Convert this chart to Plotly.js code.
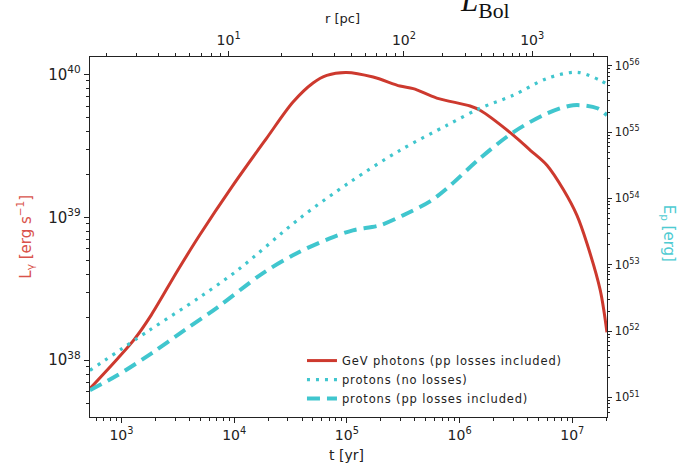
<!DOCTYPE html>
<html><head><meta charset="utf-8">
<script src="https://cdn.plot.ly/plotly-3.0.1.min.js"></script>
<style>html,body{margin:0;padding:0;background:#fff}#chart{width:682px;height:465px}.legendtext{letter-spacing:0.85px}</style>
</head><body><div id="chart"></div>
<script>
// GeV photon luminosity (left axis), t in yr, L in erg/s
const tPhotons = [525, 927, 1300, 1837, 3162, 4932, 9750, 1.93e4, 3.33e4, 5.01e4, 6.64e4, 9.93e4, 1.71e5, 2.96e5, 3.88e5, 6.27e5, 1.24e6, 1.52e6, 3.01e6, 4.24e6, 5.96e6, 8.38e6, 1.10e7, 1.35e7, 1.77e7, 2.03e7];
const LPhotons = [6.34e37, 1.03e38, 1.40e38, 2.07e38, 4.26e38, 7.48e38, 1.67e39, 3.55e39, 6.40e39, 8.70e39, 9.84e39, 1.03e40, 9.57e39, 8.28e39, 7.94e39, 6.82e39, 6.00e39, 5.60e39, 3.74e39, 2.94e39, 2.31e39, 1.55e39, 1.03e39, 6.55e38, 3.09e38, 1.57e38];
// Proton energy, no losses (right axis), erg
const tNoLoss = [525, 1774, 4932, 1.07e4, 3.82e4, 1.06e5, 2.96e5, 7.74e5, 1.52e6, 2.99e6, 6.00e6, 1.11e7, 1.77e7, 2.03e7];
const EpNoLoss = [2.55e51, 1.03e52, 3.22e52, 8.24e52, 5.01e53, 1.75e54, 5.31e54, 1.27e55, 2.29e55, 3.59e55, 6.47e55, 7.98e55, 6.04e55, 5.26e55];
// Proton energy, pp losses included (right axis), erg
const tLoss = [525, 920, 1849, 3631, 7129, 1.79e4, 3.60e4, 7.06e4, 1.13e5, 1.96e5, 3.15e5, 5.47e5, 7.74e5, 1.52e6, 2.99e6, 6.00e6, 1.02e7, 1.67e7, 2.03e7];
const EpLoss = [1.28e51, 2.15e51, 4.61e51, 1.03e52, 2.28e52, 7.41e52, 1.49e53, 2.50e53, 3.30e53, 3.93e53, 5.56e53, 9.04e53, 1.42e54, 4.03e54, 9.93e54, 1.92e55, 2.54e55, 2.29e55, 1.79e55];

const seriesNames = ['GeV photons (pp losses included)', 'protons (no losses)', 'protons (pp losses included)'];
// Bottom axis ticks (t)
const tTickVals = [1e3, 1e4, 1e5, 1e6, 1e7];
const tTickText = ['10<sup>3</sup>', '10<sup>4</sup>', '10<sup>5</sup>', '10<sup>6</sup>', '10<sup>7</sup>'];
// Top axis ticks (r in pc) and the t at which they sit
const rTickText = ['10<sup>1</sup>', '10<sup>2</sup>', '10<sup>3</sup>'];
const rTickT = [8930, 3.21e5, 4.41e6];
// Left axis ticks
const LTickVals = [1e38, 1e39, 1e40];
const LTickText = ['10<sup>38</sup>', '10<sup>39</sup>', '10<sup>40</sup>'];
// Right axis ticks
const ETickVals = [1e51, 1e52, 1e53, 1e54, 1e55, 1e56];
const ETickText = ['10<sup>51</sup>', '10<sup>52</sup>', '10<sup>53</sup>', '10<sup>54</sup>', '10<sup>55</sup>', '10<sup>56</sup>'];

const RED = '#cd392e', CYAN = '#40c6ce', INK = '#222';

function minorLog(lo, hi) { const v = []; for (let d = lo; d <= hi; d++) for (let k = 2; k <= 9; k++) v.push(k * Math.pow(10, d)); return v; }
// minor ticks for the r axis: interpolate log t vs log r between labelled ticks
function minorR() {
  const lr = [1, 2, 3], lt = rTickT.map(Math.log10), out = [];
  for (let d = 0; d <= 3; d++) for (let k = 2; k <= 9; k++) {
    const x = d + Math.log10(k); let i = x < 2 ? 0 : 1;
    const y = lt[i] + (x - lr[i]) * (lt[i + 1] - lt[i]) / (lr[i + 1] - lr[i]);
    out.push(Math.pow(10, y));
  }
  return out;
}

const xr = [2.721, 7.308];
const traces = [
  {x: tPhotons, y: LPhotons, name: seriesNames[0], type: 'scatter', mode: 'lines', line: {color: RED, width: 3, shape: 'spline', smoothing: 0.9}, xaxis: 'x', yaxis: 'y'},
  {x: tNoLoss, y: EpNoLoss, name: seriesNames[1], type: 'scatter', mode: 'lines', line: {color: CYAN, width: 3.2, dash: '3px,6px', shape: 'spline', smoothing: 0.9}, xaxis: 'x', yaxis: 'y2'},
  {x: tLoss, y: EpLoss, name: seriesNames[2], type: 'scatter', mode: 'lines', line: {color: CYAN, width: 4, dash: '13px,7px', shape: 'spline', smoothing: 0.9}, xaxis: 'x', yaxis: 'y2'},
  // empty trace that only registers the top (r) axis so that it is drawn
  {x: [], y: [], type: 'scatter', mode: 'lines', xaxis: 'x2', yaxis: 'y', showlegend: false, hoverinfo: 'skip'}
];

const axBase = {showline: true, linecolor: INK, linewidth: 1.4, ticks: 'outside', tickcolor: INK, tickwidth: 1, ticklen: 5, showgrid: false, zeroline: false, tickfont: {size: 14, color: INK}};

const layout = {
  width: 682, height: 465,
  margin: {l: 90, r: 75, t: 57, b: 48},
  paper_bgcolor: '#fff', plot_bgcolor: '#fff',
  font: {family: 'DejaVu Sans, sans-serif', size: 13, color: INK},
  showlegend: true,
  legend: {x: 0.41, y: 0.197, xanchor: 'left', yanchor: 'top', bgcolor: 'rgba(0,0,0,0)', font: {size: 11.5, color: INK}, itemwidth: 30, tracegroupgap: 0, traceorder: 'normal'},
  xaxis: Object.assign({}, axBase, {type: 'log', range: xr, autorange: false, anchor: 'y', tickvals: tTickVals, ticktext: tTickText,
    minor: {tickvals: minorLog(2, 7), ticks: 'outside', ticklen: 2.5, tickcolor: INK, showgrid: false}}),
  xaxis2: Object.assign({}, axBase, {type: 'log', range: xr, autorange: false, overlaying: 'x', side: 'top', anchor: 'y', tickvals: rTickT, ticktext: rTickText,
    minor: {tickvals: minorR(), ticks: 'outside', ticklen: 2.5, tickcolor: INK, showgrid: false}}),
  yaxis: Object.assign({}, axBase, {type: 'log', range: [37.603, 40.121], autorange: false, anchor: 'x', tickvals: LTickVals, ticktext: LTickText, ticklen: 5, tickfont: {size: 15, color: INK},
    minor: {tickvals: minorLog(37, 40), ticks: 'outside', ticklen: 2.5, tickcolor: INK, showgrid: false}}),
  yaxis2: Object.assign({}, axBase, {type: 'log', range: [50.703, 56.133], autorange: false, overlaying: 'y', side: 'right', anchor: 'x', tickvals: ETickVals, ticktext: ETickText, tickfont: {size: 11.5, color: INK}, ticklen: 4,
    minor: {tickvals: minorLog(50, 56), ticks: 'outside', ticklen: 2, tickcolor: INK, showgrid: false}}),
  annotations: [
    {text: 't [yr]', xref: 'paper', yref: 'paper', x: 0.497, y: -0.1056, xanchor: 'center', yanchor: 'middle', showarrow: false, font: {size: 14, color: INK}},
    {text: 'r [pc]', xref: 'paper', yref: 'paper', x: 0.489, y: 1.108, xanchor: 'center', yanchor: 'middle', showarrow: false, font: {size: 13, color: INK}},
    {text: 'L<sub>γ</sub> [erg s<sup>−1</sup>]', xref: 'paper', yref: 'paper', x: -0.1257, y: 0.501, xanchor: 'center', yanchor: 'middle', textangle: -90, showarrow: false, font: {size: 15, color: '#d9534c'}},
    {text: 'E<sub>p</sub> [erg]', xref: 'paper', yref: 'paper', x: 1.118, y: 0.512, xanchor: 'center', yanchor: 'middle', textangle: 90, showarrow: false, font: {size: 15, color: '#4fcbd2'}},
    {text: '<i>L</i><sub>Bol</sub>', xref: 'paper', yref: 'paper', x: (458 - 90) / 517, y: (417 - 3) / 360, xanchor: 'left', yanchor: 'middle', showarrow: false, font: {family: 'Liberation Serif, serif', size: 31, color: '#111'}}
  ]
};

Plotly.newPlot('chart', traces, layout, {displayModeBar: false, staticPlot: true});
</script>
</body></html>
